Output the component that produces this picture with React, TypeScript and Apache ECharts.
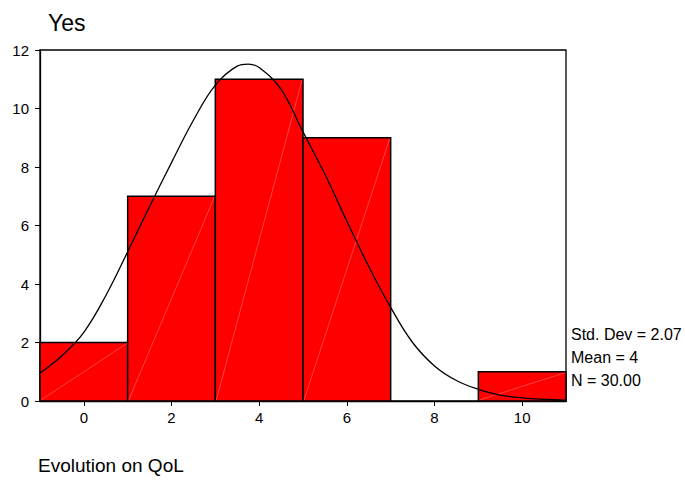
import React, { useEffect, useRef } from "react";
import * as echarts from "echarts";

const binCenters = [0, 2, 4, 6, 8, 10];
const binWidth = 2;
const counts = [2, 7, 11, 9, 0, 1];
const xTicks = [0, 2, 4, 6, 8, 10];
const curveX = [-1, -0.5, 0, 0.5, 1, 1.5, 2, 2.5, 3, 3.5, 3.75, 4, 4.5, 5, 5.5, 6, 6.5, 7, 7.5, 8, 8.5, 9, 9.5, 10, 10.5, 11];
const curveY = [0.96, 1.55, 2.35, 3.6, 5.1, 6.65, 8.15, 9.6, 10.8, 11.45, 11.52, 11.4, 10.65, 9.2, 7.75, 6.15, 4.6, 3.2, 2.0, 1.2, 0.7, 0.4, 0.2, 0.11, 0.06, 0.03];
const statLines = ["Std. Dev = 2.07", "Mean = 4", "N = 30.00"];
const titleText = "Yes";
const xTitle = "Evolution on QoL";

export default function App() {
  const ref = useRef<HTMLDivElement>(null);
  useEffect(() => {
    document.body.style.margin = "0";
    const chart = echarts.init(ref.current!, null, { renderer: "svg" });
    const font = "Arial, 'Liberation Sans', sans-serif";
    chart.setOption({
      animation: false,
      backgroundColor: "#ffffff",
      title: {
        text: titleText,
        left: 43,
        top: 6,
        textStyle: { fontFamily: font, fontSize: 23, fontWeight: "normal", color: "#000" },
      },
      grid: {
        left: 40,
        right: 119,
        top: 50,
        bottom: 79,
        show: true,
        borderColor: "#000",
        borderWidth: 1.3,
        backgroundColor: "transparent",
      },
      xAxis: {
        type: "value",
        min: -1,
        max: 11,
        axisLine: { show: true, onZero: false, lineStyle: { color: "#000", width: 1.3 } },
        splitLine: { show: false },
        axisTick: { show: true, customValues: xTicks, length: 5, lineStyle: { color: "#000" } },
        axisLabel: {
          customValues: xTicks,
          fontFamily: font,
          fontSize: 15,
          color: "#000",
          margin: 9,
        },
      },
      yAxis: {
        type: "value",
        min: 0,
        max: 12,
        interval: 2,
        axisLine: { show: true, onZero: false, lineStyle: { color: "#000", width: 1.3 } },
        splitLine: { show: false },
        axisTick: { show: true, length: 5, lineStyle: { color: "#000" } },
        axisLabel: { fontFamily: font, fontSize: 15, color: "#000", margin: 11 },
      },
      series: [
        {
          type: "custom",
          data: binCenters.map((c, i) => [c, counts[i]]),
          encode: { x: 0, y: 1 },
          z: 2,
          renderItem: (params: any, api: any) => {
            const c = api.value(0);
            const v = api.value(1);
            if (!v) return null;
            const p0 = api.coord([c - binWidth / 2, 0]);
            const p1 = api.coord([c + binWidth / 2, v]);
            return {
              type: "group",
              children: [
                {
                  type: "rect",
                  shape: { x: p0[0], y: p1[1], width: p1[0] - p0[0], height: p0[1] - p1[1] },
                  style: { fill: "#ff0000", stroke: "#000", lineWidth: 1.5 },
                },
                {
                  type: "line",
                  shape: { x1: p0[0] + 1, y1: p0[1] - 1, x2: p1[0] - 1, y2: p1[1] + 1 },
                  style: { stroke: "rgba(255,190,190,0.7)", lineWidth: 0.5 },
                },
              ],
            };
          },
        },
        {
          type: "line",
          data: curveX.map((x, i) => [x, curveY[i]]),
          smooth: 0.4,
          symbol: "none",
          z: 5,
          lineStyle: { color: "#000", width: 1.3 },
        },
      ],
      graphic: [
        ...statLines.map((t, i) => ({
          type: "text",
          left: 571,
          top: 326 + i * 23,
          style: { text: t, fontFamily: font, fontSize: 16, fill: "#000" },
        })),
        {
          type: "text",
          left: 38,
          top: 456,
          style: { text: xTitle, fontFamily: font, fontSize: 19, fill: "#000" },
        },
      ],
    });
    return () => chart.dispose();
  }, []);
  return <div ref={ref} style={{ width: 685, height: 480 }} />;
}
